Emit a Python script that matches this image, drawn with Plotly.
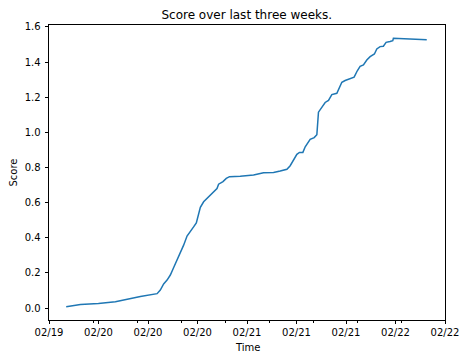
import pandas as pd
import plotly.graph_objects as go

# Data (hours after 02/19 16:00, score)
hours = [2.78, 5.08, 7.99, 10.73, 14.77, 17.47, 17.99, 18.53, 19.08, 19.61,
         20.15, 20.58, 20.95, 21.34, 21.76, 22.31, 22.84, 23.37, 23.81, 24.18,
         24.46, 24.99, 25.54, 26.07, 26.72, 27.15, 27.41, 28.12, 28.65, 29.18,
         30.91, 32.53, 33.06, 34.67, 36.29, 37.37, 38.45, 38.98, 39.52, 40.06,
         40.48, 41.03, 41.41, 41.78, 42.21, 42.86, 43.29, 43.55, 44.10, 44.63,
         45.17, 45.71, 46.52, 46.94, 47.33, 47.86, 48.67, 49.31, 49.85, 50.28,
         50.82, 51.36, 51.90, 52.59, 52.98, 53.51, 54.04, 54.48, 55.12, 55.56,
         55.66, 61.05]
score = [0.008, 0.020, 0.026, 0.036, 0.066, 0.082, 0.102, 0.137, 0.159, 0.188,
         0.231, 0.263, 0.300, 0.326, 0.358, 0.410, 0.440, 0.462, 0.485, 0.539,
         0.573, 0.605, 0.624, 0.643, 0.660, 0.680, 0.705, 0.720, 0.738, 0.748,
         0.750, 0.753, 0.757, 0.770, 0.772, 0.780, 0.790, 0.810, 0.845, 0.875,
         0.886, 0.886, 0.918, 0.937, 0.960, 0.970, 0.987, 1.115, 1.143, 1.170,
         1.182, 1.215, 1.222, 1.257, 1.285, 1.295, 1.305, 1.314, 1.352, 1.376,
         1.384, 1.412, 1.431, 1.446, 1.475, 1.488, 1.490, 1.512, 1.517, 1.522,
         1.535, 1.527]

title_text = "Score over last three weeks."
x_label = "Time"
y_label = "Score"
y_ticks = [0.0, 0.2, 0.4, 0.6, 0.8, 1.0, 1.2, 1.4, 1.6]

base = pd.Timestamp("2021-02-19 16:00")
x = base + pd.to_timedelta(hours, unit="h")
x_start = base
x_end = base + pd.Timedelta(hours=64)
minor_vals = list(pd.date_range(x_start, x_end, periods=10))

FONT = "DejaVu Sans"
L, R, T, B = 48.5, 23, 25, 40
W, H = 468, 360
pw, ph = W - L - R, H - T - B

fig = go.Figure()
fig.add_trace(go.Scatter(x=x, y=score, mode="lines",
                         line=dict(color="#1f77b4", width=1.5),
                         showlegend=False))

fig.update_layout(
    width=W, height=H,
    margin=dict(l=L, r=R, t=T, b=B),
    paper_bgcolor="white", plot_bgcolor="white",
    font=dict(family=FONT, size=10, color="black"),
    title=dict(text=title_text, x=(L + W - R) / 2 / W, xanchor="center",
               y=1 - 14.5 / H, yanchor="middle", yref="container",
               font=dict(family=FONT, size=12, color="black")),
    annotations=[
        dict(text=x_label, xref="paper", yref="paper", x=0.5,
             y=-(347.5 - (H - B)) / ph, xanchor="center", yanchor="middle",
             showarrow=False, font=dict(family=FONT, size=10, color="black")),
        dict(text=y_label, xref="paper", yref="paper", x=-(L - 12.5) / pw,
             y=0.5, xanchor="center", yanchor="middle", textangle=-90,
             showarrow=False, font=dict(family=FONT, size=10, color="black")),
    ],
)
fig.update_xaxes(
    type="date", range=[x_start, x_end], automargin=False,
    tick0=x_start, dtick=8 * 3600 * 1000, tickformat="%m/%d",
    ticks="outside", ticklen=3.5, tickwidth=0.8, tickcolor="black",
    ticklabelstandoff=0,
    showline=True, linecolor="black", linewidth=0.8, mirror=True,
    showgrid=False, zeroline=False,
    minor=dict(tickmode="array", tickvals=minor_vals, ticks="outside",
               ticklen=2, tickwidth=0.6, tickcolor="black", showgrid=False),
    tickfont=dict(family=FONT, size=10, color="black"),
)
fig.update_yaxes(
    range=[-0.068, 1.611], tickvals=y_ticks, tickformat=".1f", automargin=False,
    ticks="outside", ticklen=3.5, tickwidth=0.8, tickcolor="black",
    ticklabelstandoff=2,
    showline=True, linecolor="black", linewidth=0.8, mirror=True,
    showgrid=False, zeroline=False,
    tickfont=dict(family=FONT, size=10, color="black"),
)

fig.write_html("out.html")
